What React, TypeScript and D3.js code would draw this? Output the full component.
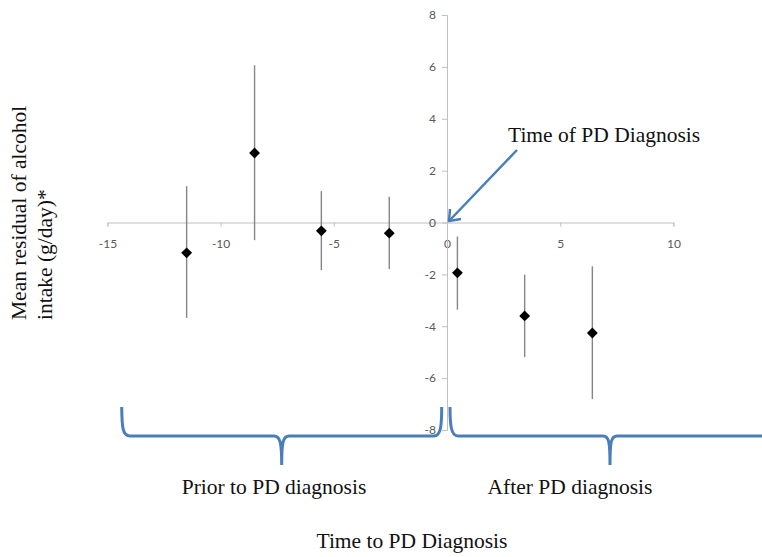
import React, { useEffect, useRef } from 'react';
import * as d3 from 'd3';

// years relative to PD diagnosis
const timeToDiagnosis = [-11.5, -8.5, -5.55, -2.55, 0.46, 3.43, 6.42];
// mean residual of alcohol intake (g/day)
const meanResidual = [-1.17, 2.68, -0.32, -0.41, -1.94, -3.6, -4.26];
const upperBound = [1.4, 6.06, 1.21, 0.99, -0.54, -2.01, -1.69];
const lowerBound = [-3.68, -0.68, -1.84, -1.79, -3.36, -5.19, -6.81];

const xTicks = [-15, -10, -5, 0, 5, 10];
const yTicks = [-8, -6, -4, -2, 0, 2, 4, 6, 8];

function App() {
  const chartRef = useRef<SVGSVGElement | null>(null);

  useEffect(() => {
    const width = 762;
    const height = 557;
    const serif = '"Liberation Serif", "Times New Roman", serif';
    const blue = '#4a7ebb';

    const svg = d3.select(chartRef.current);
    svg.selectAll('*').remove();
    svg.attr('width', width).attr('height', height);

    const x = d3.scaleLinear().domain([-15, 10]).range([107.4, 673.4]);
    const y = d3.scaleLinear().domain([-8, 8]).range([430, 15]);

    // plain hyphen for negatives, like the original
    const fmt = (d: d3.NumberValue) => String(d);

    // x axis through y = 0
    const xAxis = svg.append('g')
      .attr('transform', `translate(0,${y(0)})`)
      .call(d3.axisBottom(x).tickValues(xTicks).tickSize(4).tickPadding(13).tickFormat(fmt));

    // y axis through x = 0
    const yAxis = svg.append('g')
      .attr('transform', `translate(${x(0)},0)`)
      .call(d3.axisLeft(y).tickValues(yTicks).tickSize(5).tickPadding(6).tickFormat(fmt));

    [xAxis, yAxis].forEach((g) => {
      g.select('.domain').attr('stroke', '#c0c0c0');
      g.selectAll('.tick line').attr('stroke', '#c0c0c0');
      g.selectAll('.tick text')
        .attr('fill', '#595959')
        .style('font-family', 'Lato, "Open Sans", sans-serif')
        .style('font-size', '12px');
    });

    const data = timeToDiagnosis.map((t, i) => ({
      t,
      mean: meanResidual[i],
      hi: upperBound[i],
      lo: lowerBound[i],
    }));

    // error bars
    svg.append('g')
      .selectAll('line')
      .data(data)
      .enter()
      .append('line')
      .attr('x1', (d) => x(d.t))
      .attr('x2', (d) => x(d.t))
      .attr('y1', (d) => y(d.hi))
      .attr('y2', (d) => y(d.lo))
      .attr('stroke', '#858585')
      .attr('stroke-width', 1.4);

    // diamonds
    const diamond = d3.symbol().type(d3.symbolDiamond2).size(75);
    svg.append('g')
      .selectAll('path')
      .data(data)
      .enter()
      .append('path')
      .attr('d', diamond)
      .attr('transform', (d) => `translate(${x(d.t)},${y(d.mean)})`)
      .attr('fill', '#000');

    // annotation arrow
    svg.append('line')
      .attr('x1', 517).attr('y1', 150)
      .attr('x2', 450).attr('y2', 220)
      .attr('stroke', blue).attr('stroke-width', 2.5);
    svg.append('path')
      .attr('d', 'M450,209 L449,221 L461,219')
      .attr('fill', 'none').attr('stroke', blue).attr('stroke-width', 2.5)
      .attr('stroke-linejoin', 'round');
    svg.append('text')
      .attr('x', 508).attr('y', 142)
      .style('font-family', serif).style('font-size', '21.5px')
      .attr('fill', '#111')
      .text('Time of PD Diagnosis');

    // braces
    const braces = [
      'M121.7,407 C122,425 122,436 130,436 L274,436 C280,436 281.7,442 281.7,465 C281.7,442 283,436 289,436 L434,436 C441,436 441.7,425 441.7,407',
      'M450,407 C450,425 451,436 458,436 L603,436 C609,436 610,442 610,465 C610,442 611,436 617,436 L770,436',
    ];
    svg.append('g')
      .selectAll('path')
      .data(braces)
      .enter()
      .append('path')
      .attr('d', (d) => d)
      .attr('fill', 'none')
      .attr('stroke', blue)
      .attr('stroke-width', 3);

    const labels = [
      { text: 'Prior to PD diagnosis', x: 274, y: 494 },
      { text: 'After PD diagnosis', x: 570, y: 494 },
      { text: 'Time to PD Diagnosis', x: 412, y: 548 },
    ];
    svg.append('g')
      .selectAll('text')
      .data(labels)
      .enter()
      .append('text')
      .attr('x', (d) => d.x)
      .attr('y', (d) => d.y)
      .attr('text-anchor', 'middle')
      .style('font-family', serif)
      .style('font-size', '21.5px')
      .attr('fill', '#111')
      .text((d) => d.text);

    // y axis title, two lines, rotated
    const yTitle = svg.append('text')
      .attr('transform', 'translate(0,320) rotate(-90)')
      .style('font-family', serif)
      .style('font-size', '21.5px')
      .attr('fill', '#111');
    yTitle.append('tspan').attr('x', 0).attr('y', 26).text('Mean residual of alcohol');
    yTitle.append('tspan').attr('x', 0).attr('y', 52).text('intake (g/day)*');
  }, []);

  return (
    <svg ref={chartRef} style={{ position: 'absolute', left: 0, top: 0, background: '#fff' }} />
  );
}

export default App;
